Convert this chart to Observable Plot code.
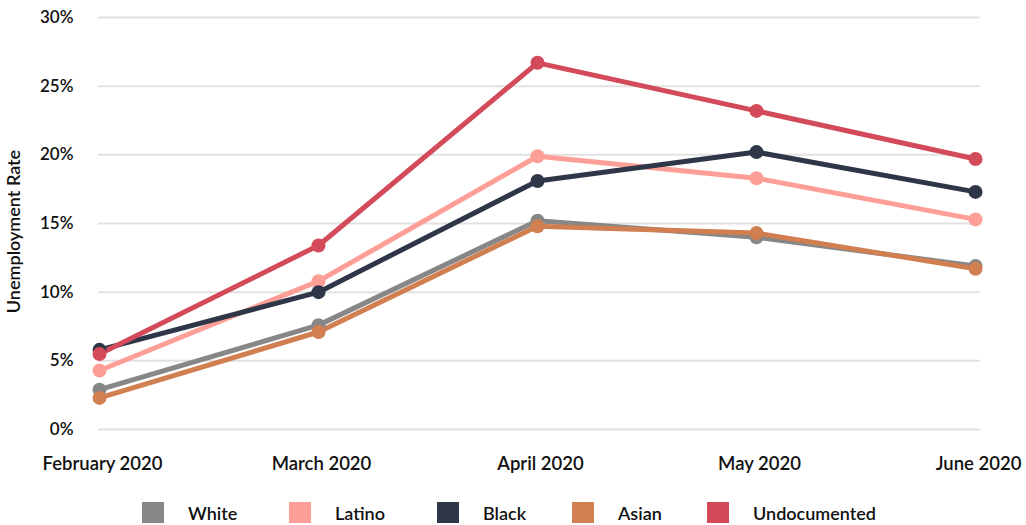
<!DOCTYPE html>
<html>
<head>
<meta charset="utf-8">
<script src="https://cdn.jsdelivr.net/npm/d3@7"></script>
<script src="https://cdn.jsdelivr.net/npm/@observablehq/plot@0.6"></script>
<style>
  html, body { margin: 0; padding: 0; background: #fff; }
  body { width: 1026px; height: 525px; overflow: hidden; font-family: Lato, "Open Sans", sans-serif; }
  #chart svg { display: block; }
  #legend { position: relative; height: 45px; }
  .item { position: absolute; top: 22px; height: 21px; display: flex; align-items: center; font-size: 18px; font-weight: 600; color: #111; }
  .sw { width: 22px; height: 21px; margin-right: 24px; }
</style>
</head>
<body>
<div id="chart"></div>
<div id="legend"></div>
<script>
const months = ["February 2020", "March 2020", "April 2020", "May 2020", "June 2020"];
const groups = ["White", "Latino", "Black", "Asian", "Undocumented"];
const colors = ["#878787", "#fd9f96", "#2e3648", "#d17e50", "#d34a5a"];
const white = [2.9, 7.6, 15.2, 14.0, 11.9];
const latino = [4.3, 10.8, 19.9, 18.3, 15.3];
const black = [5.8, 10.0, 18.1, 20.2, 17.3];
const asian = [2.3, 7.1, 14.8, 14.3, 11.7];
const undocumented = [5.5, 13.4, 26.7, 23.2, 19.7];
const yTicks = [0, 5, 10, 15, 20, 25, 30];

const series = [white, latino, black, asian, undocumented];
const data = [];
groups.forEach((g, i) => series[i].forEach((v, j) => data.push({group: g, month: months[j], rate: v})));

const chart = Plot.plot({
  width: 1026,
  height: 480,
  marginLeft: 98,
  marginRight: 51,
  marginTop: 17,
  marginBottom: 51,
  style: {fontFamily: "Lato, 'Open Sans', sans-serif", fontSize: "17px", color: "#111"},
  x: {type: "point", domain: months, padding: 0, label: null},
  y: {domain: [0, 30], label: null},
  color: {domain: groups, range: colors},
  marks: [
    Plot.ruleY(yTicks, {stroke: "#e2e2e2", strokeWidth: 2, insetRight: -5}),
    Plot.axisY({ticks: yTicks, tickSize: 0, tickPadding: 25, tickFormat: d => d + "%", fontSize: 17, fontWeight: 600}),
    Plot.axisX({tickSize: 0, tickPadding: 27, fontSize: 18.5, fontWeight: 600, dx: 3}),
    Plot.text(["Unemployment Rate"], {frameAnchor: "left", textAnchor: "middle", dx: -84, dy: 8, rotate: -90, fontSize: 18, fontWeight: 600, fill: "#111"}),
    Plot.line(data, {x: "month", y: "rate", z: "group", stroke: "group", strokeWidth: 5}),
    Plot.dot(data, {x: "month", y: "rate", fill: "group", r: 7})
  ]
});
document.getElementById("chart").appendChild(chart);

const lx = [142, 289, 437, 572, 707];
const legend = document.getElementById("legend");
groups.forEach((g, i) => {
  const it = document.createElement("div");
  it.className = "item";
  it.style.left = lx[i] + "px";
  it.innerHTML = `<span class="sw" style="background:${colors[i]}"></span><span>${g}</span>`;
  legend.appendChild(it);
});
</script>
</body>
</html>
